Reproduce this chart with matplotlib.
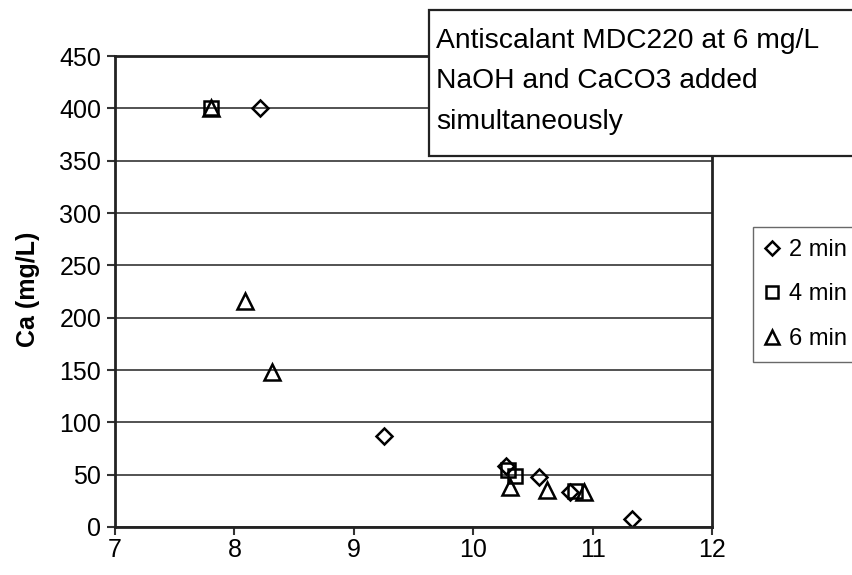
import matplotlib
matplotlib.use('Agg')
import matplotlib.pyplot as plt
from matplotlib.patches import Rectangle

# pH values and Ca concentration (mg/L)
ph_2min = [8.21, 9.25, 10.27, 10.55, 10.81, 11.33]
ca_2min = [400, 87, 58, 48, 33, 8]
ph_4min = [7.80, 10.29, 10.35, 10.85]
ca_4min = [400, 54, 49, 34]
ph_6min = [7.80, 8.09, 8.31, 10.31, 10.62, 10.93]
ca_6min = [400, 216, 148, 38, 35, 33]

series_labels = ['2 min', '4 min', '6 min']
note_lines = ['Antiscalant MDC220 at 6 mg/L', 'NaOH and CaCO3 added', 'simultaneously']

plt.rcParams['font.family'] = ['Liberation Sans', 'DejaVu Sans']

fig = plt.figure(figsize=(8.52, 5.75), dpi=100)
ax = fig.add_axes([0.135, 0.0835, 0.701, 0.819])

mk = dict(linestyle='none', markerfacecolor='none', markeredgecolor='black', markeredgewidth=1.8)
ax.plot(ph_2min, ca_2min, marker='D', markersize=8.5, label=series_labels[0], **mk)
ax.plot(ph_4min, ca_4min, marker='s', markersize=10, label=series_labels[1], **mk)
ax.plot(ph_6min, ca_6min, marker='^', markersize=12, label=series_labels[2], **mk)

ax.set_xlim(7, 12)
ax.set_ylim(0, 450)
ax.set_xticks(range(7, 13))
ax.set_yticks(range(0, 451, 50))
ax.yaxis.grid(True, color='#444444', linewidth=1.3)
ax.set_axisbelow(True)
ax.tick_params(labelsize=18, direction='out', length=6, width=1.5, color='#333333', pad=4)
ax.tick_params(axis='x', pad=2)
for s in ax.spines.values():
    s.set_linewidth(2)
    s.set_color('#222222')
ax.set_ylabel('Ca (mg/L)', fontsize=18, fontweight='bold')
ax.yaxis.set_label_coords(-0.126, 0.505)

# note box at top right (cut off by the figure edge)
fig.patches.append(Rectangle((0.5035, 0.7287), 0.55, 0.254, transform=fig.transFigure,
                             facecolor='white', edgecolor='#222222', linewidth=1.6, zorder=5))
for i, line in enumerate(note_lines):
    fig.text(0.512, 0.929 - i * 0.0705, line, fontsize=20.3, va='center', ha='left', zorder=6)

# legend outside the plot on the right
leg = fig.legend(loc='upper left', bbox_to_anchor=(0.884, 0.605), fontsize=17,
                 markerscale=0.8, handlelength=0.6, handletextpad=0.4, labelspacing=0.95,
                 borderpad=0.5, borderaxespad=0, frameon=True, fancybox=False)
leg.get_frame().set_edgecolor('#444444')
leg.get_frame().set_linewidth(1.0)

plt.savefig('out.png', dpi=100)
